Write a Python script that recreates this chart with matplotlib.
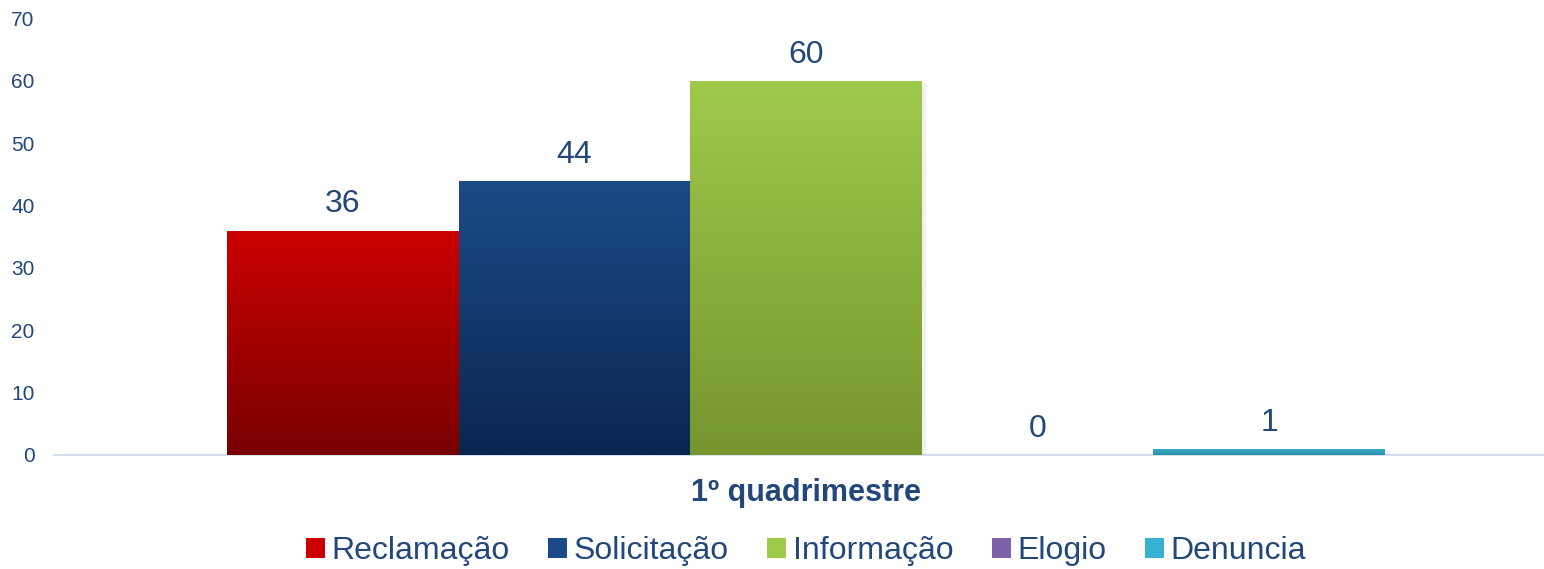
import numpy as np
import matplotlib.pyplot as plt
from matplotlib.colors import LinearSegmentedColormap
from matplotlib.patches import Patch

plt.rcParams['font.family'] = ['Liberation Sans', 'DejaVu Sans']

categories = ['Reclamação', 'Solicitação', 'Informação', 'Elogio', 'Denuncia']
values = [36, 44, 60, 0, 1]
group_label = '1º quadrimestre'
yticks = [0, 10, 20, 30, 40, 50, 60, 70]

# top colour, bottom colour of each bar gradient
grad_top = ['#CC0000', '#1C4A88', '#9FC94B', '#8060A8', '#36B1CE']
grad_bot = ['#780000', '#0A2650', '#76952F', '#5E3F80', '#2A8EA8']

text_col = '#22477A'
axis_col = '#D5E0EE'

fig = plt.figure(figsize=(15.44, 5.69), dpi=100)
ax = fig.add_axes([54 / 1544, 1 - 455 / 569, 1 - 54 / 1544, (455 - 18.5) / 569])

x = np.arange(len(categories))
bars = ax.bar(x, values, width=1.0, color='none', edgecolor='none')

grad = np.linspace(1, 0, 256).reshape(-1, 1)
for b, v, c0, c1 in zip(bars, values, grad_top, grad_bot):
    if v <= 0:
        continue
    x0, w, h = b.get_x(), b.get_width(), b.get_height()
    # soft shadow on the right/bottom
    ax.bar(x0 + w / 2 + 0.02, h, width=w, bottom=-0.35, color='#000000',
           alpha=0.06, zorder=1, edgecolor='none')
    cmap = LinearSegmentedColormap.from_list('g', [c1, c0])
    im = ax.imshow(grad, cmap=cmap, aspect='auto', extent=[x0, x0 + w, 0, h],
                   zorder=2, vmin=0, vmax=1)
    im.set_clip_path(b)

for xi, v in zip(x, values):
    ax.annotate(str(v), (xi, v), xytext=(0, 13), textcoords='offset points',
                ha='center', va='baseline', fontsize=23, color=text_col)

ax.set_xlim(-1.247, 5.187)
ax.set_ylim(0, 70)
ax.set_yticks(yticks)
ax.tick_params(axis='y', length=0, pad=14, labelsize=15, labelcolor=text_col)
ax.set_xticks([])
for s in ['top', 'right', 'left']:
    ax.spines[s].set_visible(False)
ax.spines['bottom'].set_color(axis_col)
ax.spines['bottom'].set_linewidth(1.5)
ax.spines['bottom'].set_zorder(0)

fig.text(806 / 1544, 1 - 493 / 569, group_label, ha='center', va='center',
         fontsize=22, fontweight='bold', color=text_col)

handles = [Patch(facecolor=c, edgecolor='none') for c in grad_top]
leg = fig.legend(handles, categories, loc='center', ncol=5,
                 bbox_to_anchor=(806 / 1544, 1 - 551 / 569), frameon=False,
                 fontsize=23, handlelength=0.6, handleheight=0.6,
                 handletextpad=0.2, columnspacing=1.2)
for t in leg.get_texts():
    t.set_color(text_col)

fig.savefig('out.png', dpi=100)
